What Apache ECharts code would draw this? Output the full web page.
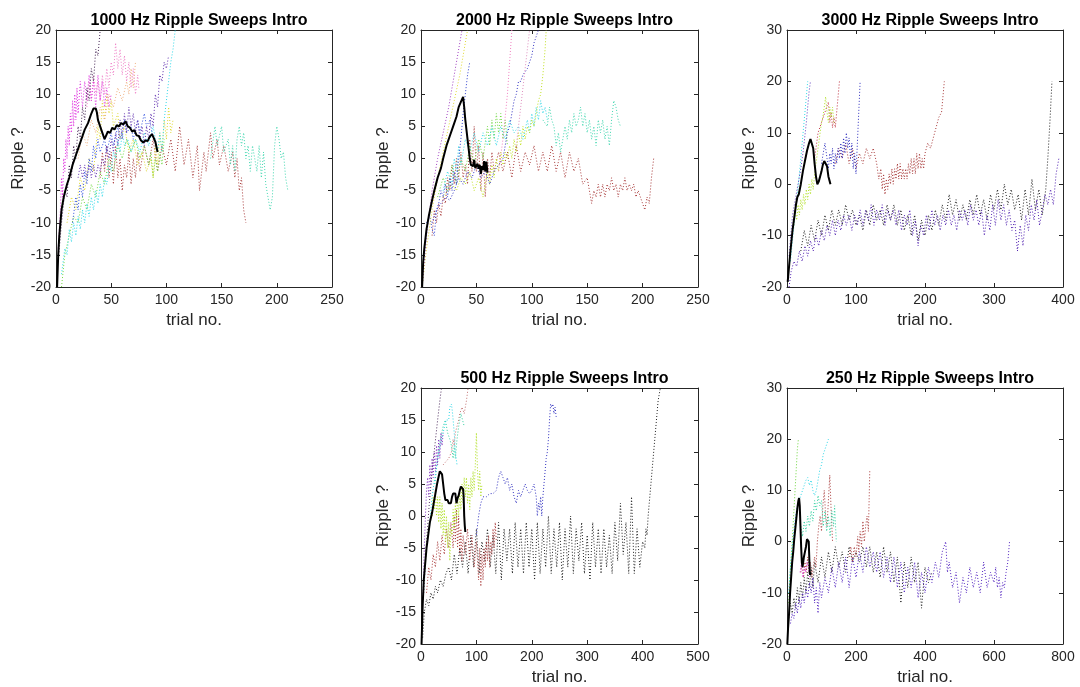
<!DOCTYPE html>
<html>
<head>
<meta charset="utf-8">
<script src="https://cdn.jsdelivr.net/npm/echarts@6/dist/echarts.min.js"></script>
<style>
html,body{margin:0;padding:0;background:#fff;}
#c{width:1080px;height:687px;}
</style>
</head>
<body>
<div id="c"></div>
<script>
// ---------- panel titles & axis ranges ----------
const titles = ['1000 Hz Ripple Sweeps Intro','2000 Hz Ripple Sweeps Intro','3000 Hz Ripple Sweeps Intro','500 Hz Ripple Sweeps Intro','250 Hz Ripple Sweeps Intro'];
const xMax = [250, 250, 400, 500, 800];
const xStep = [50, 50, 100, 100, 200];
const yMin = [-20, -20, -20, -20, -20];
const yMax = [20, 20, 30, 20, 30];
const yStep = [5, 5, 10, 5, 10];
const xName = 'trial no.';
const yName = 'Ripple ?';

// ---------- 1000 Hz ----------
const a_mean = [[1,-20],[2,-15],[3,-12],[5,-8],[7,-6],[10,-4],[12,-3],[15,-1],[18,0.5],[20,1.5],[23,3],[26,4.5],[29,5.5],[32,7],[34,7.8],[36,7.8],[37,7.2],[38,6],[40,5],[42,4],[44,3],[45,3.2],[47,4.2],[49,4],[51,4.8],[53,4.5],[55,5.2],[57,5],[59,5.5],[61,5.3],[63,5.8],[65,5],[67,4.8],[69,4.2],[71,4.4],[73,3.6],[75,3.5],[77,2.8],[79,2.5],[81,2.8],[83,2.7],[85,3.4],[87,3.8],[89,3],[90,2.6],[91,1.8],[92,1]];
const a_mag = [[2,-14],[4,-8],[5,-3],[6,-6],[7,0],[8,-2],[9,3],[10,0],[11,5],[12,2],[13,7],[14,4],[15,9],[16,5],[17,10],[18,6],[19,11],[20,7],[22,12],[24,8],[26,12],[28,9],[30,13],[32,9],[34,12],[36,8],[38,13],[40,9],[42,12],[44,8],[46,11],[48,8],[50,10]];
const a_pink = [[28,8],[30,12],[32,9],[34,13],[36,10],[38,12],[40,9],[42,13],[44,10],[46,14],[48,11],[50,15],[52,13],[54,18],[56,14],[58,17],[60,13],[62,16],[64,12],[66,15],[68,11],[70,14],[72,10],[74,13],[75,11]];
const a_dark = [[2,-16],[5,-10],[8,-5],[10,-6],[12,-1],[14,-3],[16,2],[18,0],[20,5],[22,3],[24,8],[26,6],[28,11],[30,9],[32,14],[34,12],[36,17],[38,16],[40,20]];
const a_purple = [[20,-3],[22,-1],[24,-3],[26,-1],[28,-3],[30,-1],[32,-3],[34,-1],[36,-3],[38,-1],[40,-2],[42,0],[44,-1],[46,2],[48,0],[50,3],[52,1],[54,4],[56,2],[58,6],[60,3],[62,7],[64,4],[66,8],[68,5],[70,7],[72,4],[74,6],[76,3],[78,5],[80,2],[82,5],[84,3],[86,7],[88,5],[90,10],[92,8],[94,13],[96,12],[98,15],[100,14],[102,16]];
const a_blue = [[15,-10],[18,-6],[20,-8],[22,-4],[24,-6],[26,-2],[28,-4],[30,0],[32,-2],[34,2],[36,0],[38,3],[40,1],[44,3],[46,1],[50,4],[52,2],[56,5],[58,3],[62,6],[64,4],[68,5],[70,3],[74,6],[76,4],[80,7],[82,5],[85,6],[88,3]];
const a_cyan = [[5,-18],[8,-14],[10,-15],[12,-11],[14,-13],[16,-10],[18,-12],[20,-9],[22,-11],[24,-8],[26,-10],[28,-7],[30,-9],[32,-6],[34,-8],[36,-5],[38,-7],[40,-4],[42,-6],[44,-3],[46,-4],[48,-1],[50,-2],[52,1],[54,0],[56,3],[58,1],[60,4],[62,2],[65,3],[68,1],[72,3],[76,1],[80,4],[84,2],[88,5],[90,3],[92,1],[94,4],[96,1],[98,6],[100,9],[102,12],[104,15],[106,17],[108,20]];
const a_yellow = [[10,-10],[14,-6],[18,-8],[22,-3],[26,-5],[30,0],[34,-2],[38,5],[40,3],[42,9],[44,6],[46,10],[48,7],[50,9],[52,5],[56,7],[58,3],[62,5],[66,1],[70,3],[74,-1],[78,1],[82,-2],[86,0],[88,-3],[90,2],[92,-1],[94,4],[96,1],[98,6],[100,3],[102,8],[104,4],[106,6]];
const a_green = [[5,-20],[8,-15],[12,-12],[16,-9],[20,-10],[24,-6],[28,-8],[32,-4],[36,-6],[40,-2],[44,-4],[48,0],[52,-2],[56,2],[60,0],[64,3],[68,1],[72,3],[76,0],[80,2],[84,-1],[86,1],[88,-3],[90,0],[92,-2],[94,1],[96,-1],[98,3]];
const a_orange = [[20,0],[24,4],[28,2],[32,6],[36,4],[40,8],[44,6],[48,10],[52,8],[56,11],[60,9],[64,12],[66,10],[68,14],[70,11],[72,15]];
const a_red = [[40,-3],[42,1],[44,-2],[46,2],[48,-3],[50,1],[52,-4],[54,2],[56,-3],[58,0],[60,-5],[62,-1],[64,-3],[66,1],[68,-4],[70,0],[72,-3],[74,1],[76,-2],[80,2],[84,-1],[88,3],[92,-2],[96,2],[100,-1],[104,3],[108,-2],[112,5],[116,-1],[120,3],[124,-3],[128,2],[130,-5],[134,1],[136,-2],[140,4],[142,0],[146,3],[148,-1],[152,2],[156,-2],[160,1],[162,-3],[164,0],[166,-5],[168,-3],[170,-8],[172,-10]];
const a_teal = [[140,0],[144,5],[146,2],[150,5],[152,1],[156,3],[158,-1],[160,2],[162,-2],[164,3],[166,5],[168,2],[170,4],[172,0],[174,2],[176,-2],[178,2],[180,0],[182,-2],[184,2],[186,-3],[188,1],[190,-4],[192,-6],[194,-8],[196,-6],[198,2],[200,5],[202,3],[204,0],[206,1],[208,-3],[210,-5]];

// ---------- 2000 Hz ----------
const b_mean = [[1,-20],[2,-16],[3,-14],[5,-11],[7,-9],[10,-6.5],[12,-5],[15,-3],[18,-1.5],[20,0],[23,2],[26,3.5],[29,5],[32,6.5],[34,8],[36,8.8],[37,9.2],[38,9.6],[39,8],[40,6],[42,3],[44,0],[45,-1],[47,-1.2],[48,-0.2],[49,-1.5],[51,-0.8],[52,-1.6],[53,-1],[54,-2.4],[55,-1.2],[56,-1.8],[57,-0.4],[58,-2],[59,-0.5],[60,-2.2]];
const b_purple = [[1,-20],[5,-12],[10,-5],[15,0],[20,4],[25,8],[30,13],[35,18],[37,20]];
const b_yellow = [[1,-20],[5,-14],[10,-8],[15,-3],[20,1],[25,5],[30,9],[35,13],[40,18],[42,20]];
const b_blue1 = [[5,-10],[8,-9],[10,-11],[12,-12],[14,-8],[16,-7],[18,-5],[20,-6],[22,-4],[24,-6],[26,-3],[28,-5],[30,-2],[32,-4],[34,0],[36,3],[38,7],[40,10],[42,13],[44,15]];
const b_blue2 = [[10,-10],[14,-8],[18,-7],[22,-6],[26,-6.5],[30,-5],[34,-3],[38,-4],[42,-2],[46,-3],[50,-1],[54,-3],[58,-2],[62,-4],[66,-2],[70,-1],[74,0],[76,2],[78,4],[80,5],[82,7],[84,9],[86,10],[88,12],[90,12],[92,13],[94,13.5],[96,14],[98,15],[100,16],[102,18],[104,19],[106,20]];
const b_lime = [[20,-6],[24,-5],[28,-4],[32,-5],[36,-3],[40,-4],[44,-2],[48,-5],[52,-3],[56,-6],[58,-4],[60,-2],[62,-4],[64,-1],[66,-3],[68,0],[70,-2],[72,1],[74,-1],[76,1],[78,0],[80,2],[82,0],[84,3],[86,1],[88,4],[90,2],[92,5],[94,3],[96,5],[98,4],[100,6],[102,5],[104,7],[106,9],[108,10],[110,13],[112,17],[113,20]];
const b_green = [[15,-6],[20,-3],[24,-5],[28,-1],[32,-4],[36,0],[40,-2],[44,2],[48,-1],[52,3],[56,0],[60,5],[62,2],[64,6],[66,3],[68,7],[70,4],[72,7],[74,3],[76,6],[78,2]];
const b_cyan = [[20,-5],[24,-2],[28,-4],[30,0],[32,-2],[34,2],[36,-1],[40,3],[44,1],[48,4],[52,1],[56,4],[60,2],[64,5],[68,2],[72,5],[76,3],[80,6],[84,4],[88,5],[92,3],[96,6],[98,4],[100,7],[102,5],[104,8],[106,6],[108,9],[110,7],[112,8],[114,6]];
const b_teal = [[110,6],[114,5],[116,8],[118,6],[120,5],[122,2],[124,4],[126,1],[128,3],[130,5],[132,3],[134,6],[136,4],[138,7],[140,5],[142,6],[144,8],[146,5],[148,7],[150,4],[152,6],[154,3],[156,5],[158,2],[160,6],[162,4],[164,6],[166,3],[168,5],[170,2],[172,6],[174,9],[176,8],[178,6],[180,5]];
const b_red = [[10,-12],[12,-8],[14,-10],[16,-7],[18,-9],[20,-6],[22,-7],[24,-3],[26,-5],[28,-1],[30,-4],[32,0],[34,-3],[36,1],[38,-3],[40,-1],[42,-4],[44,3],[46,-2],[48,5],[50,-2],[52,2],[54,-5],[56,1],[58,-6],[60,0],[62,-3],[64,1],[66,-2],[70,1],[74,-2],[78,1],[82,-3],[86,2],[90,-2],[94,1],[98,-1],[102,2],[106,-2],[110,1],[114,-2],[118,2],[122,-2],[126,1],[130,-3],[134,1],[138,-2],[142,0],[146,-4],[150,-3],[152,-5],[154,-7],[156,-5],[158,-6],[160,-4],[162,-6],[164,-4],[166,-6],[168,-4],[170,-5],[172,-3],[174,-5],[176,-4],[178,-6],[180,-4],[182,-5],[184,-3],[186,-5],[188,-4],[190,-5],[192,-4],[194,-6],[196,-5],[198,-6],[200,-7],[202,-8],[204,-6],[206,-7],[208,-3],[210,0]];
const b_pink = [[70,-2],[74,3],[78,10],[80,15],[82,20]];
const b_pink2 = [[86,2],[90,8],[94,14],[98,20]];

// ---------- 3000 Hz ----------
const c_mean = [[1,-19],[3,-16],[5,-13],[8,-9],[10,-7],[13,-4],[15,-2.5],[17,-2],[20,0],[23,2.5],[26,4.5],[29,6.5],[32,8],[34,8.8],[36,8.8],[38,7],[40,4],[42,1.5],[44,0],[46,0.5],[48,1.5],[50,2.5],[52,3.8],[54,4.5],[56,4.5],[58,3.5],[60,1.5],[62,0.5],[63,0]];
const c_cyan = [[5,-15],[10,-8],[15,-2],[18,2],[20,5],[22,8],[24,11],[26,14],[28,17],[30,20]];
const c_purple = [[3,-14],[8,-6],[12,-3],[16,0],[20,3],[24,7],[28,12],[32,18],[34,20]];
const c_lime = [[10,-8],[12,-5],[14,-7],[16,-4],[18,-6],[20,-3],[22,-5],[24,-2],[26,-4],[28,-1],[30,-3],[32,0],[34,-2],[36,1],[38,-1],[40,2],[42,4],[44,6],[46,8],[48,10],[50,12],[52,13],[54,15],[56,17],[58,14],[60,12],[62,15],[64,13],[66,15],[68,12]];
const c_red = [[40,5],[45,10],[50,12],[55,14],[60,16],[62,12],[64,14],[66,11],[68,13],[70,11],[72,14],[74,17],[76,20]];
const c_blue = [[50,4],[55,8],[58,5],[60,3],[62,6],[64,4],[66,7],[68,3],[70,6],[72,4],[74,7],[76,5],[78,8],[80,5],[82,9],[84,6],[86,10],[88,7],[90,9],[92,5],[94,8],[96,3],[98,6],[100,2],[102,8],[104,14],[106,20]];
const c_brown = [[70,4],[75,7],[80,5],[85,8],[90,4],[95,7],[100,3],[105,6],[110,4],[115,7],[120,5],[125,7],[130,4],[133,1],[136,3],[138,-1],[140,2],[142,-2],[144,1],[146,-1],[148,2],[150,0],[152,3],[154,0],[156,3],[158,1],[160,4],[162,1],[164,4],[166,1],[168,3],[170,1],[172,3],[174,1],[176,4],[178,2],[180,5],[182,2],[184,5],[186,2],[188,6],[190,3],[192,6],[194,3],[196,5],[198,3],[200,6],[204,8],[208,7],[212,9],[216,11],[220,13],[224,14],[228,20]];
const c_violet = [[3,-20],[6,-17],[10,-15],[14,-16],[18,-13],[22,-15],[26,-12],[30,-14],[34,-11],[38,-13],[42,-10],[46,-12],[50,-9],[54,-11],[58,-8],[62,-10],[66,-7],[70,-10],[74,-7],[78,-9],[82,-6],[86,-8],[90,-6],[94,-9],[98,-6],[102,-8],[106,-5],[110,-8],[114,-5],[118,-7],[122,-4],[126,-8],[130,-5],[134,-7],[138,-4],[142,-8],[146,-5],[150,-7],[154,-5],[158,-8],[162,-5],[166,-9],[170,-6],[174,-8],[178,-5],[182,-10],[186,-7],[190,-12],[194,-8],[198,-10],[202,-6],[206,-9],[210,-5],[214,-8],[218,-6],[222,-9],[226,-6],[230,-8],[234,-5],[238,-8],[242,-6],[246,-9],[250,-5],[254,-7],[258,-5],[262,-8],[266,-4],[270,-7],[274,-5],[278,-8],[282,-5],[286,-10],[290,-6],[294,-9],[298,-4],[302,-8],[306,-3],[310,-7],[314,-4],[318,-8],[322,-5],[326,-9],[330,-7],[334,-13],[338,-8],[342,-12],[346,-6],[350,-9],[354,-4],[358,-7],[362,-3],[366,-8],[370,-5],[374,-2],[378,-4],[382,-1],[386,-4],[390,2],[394,5]];
const c_black = [[20,-13],[25,-9],[30,-12],[35,-8],[40,-11],[45,-7],[50,-10],[55,-6],[60,-9],[65,-5],[70,-8],[75,-5],[80,-8],[85,-4],[90,-7],[95,-5],[100,-8],[105,-6],[110,-9],[115,-5],[120,-8],[125,-4],[130,-7],[135,-5],[140,-8],[145,-4],[150,-7],[155,-4],[160,-8],[165,-5],[170,-9],[175,-6],[180,-10],[185,-6],[190,-11],[195,-7],[200,-10],[205,-6],[210,-9],[215,-5],[220,-8],[225,-4],[230,-7],[235,-2],[240,-6],[245,-3],[250,-7],[255,-4],[260,-7],[265,-3],[270,-6],[275,-2],[280,-6],[285,-3],[290,-7],[295,-2],[300,-5],[305,-1],[310,-5],[315,0],[320,-4],[325,-1],[330,-5],[335,-2],[340,-7],[345,-1],[350,-6],[355,1],[360,-5],[365,-1],[370,-6],[375,-1],[378,5],[381,12],[384,20]];

// ---------- 500 Hz ----------
const d_mean = [[1,-20],[2,-17],[3,-14],[5,-10],[7,-8],[10,-5],[13,-3],[16,-1],[20,0.5],[23,2],[26,3.5],[29,5],[32,6.2],[34,7],[36,7.3],[38,6.5],[40,5],[42,3.5],[44,2.5],[46,2.2],[48,2.5],[50,2],[52,2.3],[54,2],[56,3],[58,3.5],[60,3.2],[62,3.5],[64,2],[65,1.8],[66,2.8],[68,3.2],[70,4],[72,4.6],[74,4.6],[76,4.2],[77,3],[78,0],[79,-1.5],[80,-2.5]];
const d_purple = [[3,-14],[6,-5],[8,0],[10,4],[12,6],[14,3],[16,8],[18,5],[20,9],[22,6],[24,10],[26,7],[28,11],[30,8],[32,12],[34,9],[36,13],[38,11],[40,13]];
const d_dark = [[5,-12],[10,-4],[15,2],[20,7],[25,11],[30,15],[34,18],[37,20]];
const d_cyan = [[15,-2],[20,3],[25,6],[30,9],[35,11],[40,13],[45,15],[50,15],[52,17],[55,17.5],[57,16],[60,13],[62,10],[65,8]];
const d_teal = [[25,5],[30,9],[35,12],[40,14],[44,15],[48,13],[52,12],[55,11],[58,9],[60,11],[62,9],[65,12],[68,14],[70,15],[72,16],[75,16],[78,14]];
const d_pink = [[40,8],[50,9],[55,10],[58,12],[60,11],[62,13],[65,14],[68,15],[70,16],[74,17],[78,16],[82,18],[85,20]];
const d_lime = [[20,0],[22,3],[24,1],[26,4],[28,0],[30,3],[32,-1],[34,3],[36,-2],[38,2],[40,-3],[42,1],[44,-4],[46,0],[48,-5],[50,-1],[52,-7],[54,-2],[56,-3],[58,1],[60,-2],[62,2],[64,-1],[66,3],[68,0],[70,4],[72,1],[74,5],[76,2],[78,6],[80,3],[82,6],[84,2],[86,5],[88,1],[90,6],[92,3],[94,7],[96,4],[98,8],[100,13],[102,7],[104,4],[106,7],[108,3],[110,5]];
const d_brown = [[10,-12],[14,-8],[18,-10],[22,-6],[26,-8],[30,-4],[34,-7],[38,-3],[42,-6],[46,-2],[50,-5],[54,-1],[58,-5],[60,0],[62,-4],[64,1],[66,-5],[68,0],[70,-6],[72,-2],[74,-7],[76,-3],[80,-6],[84,-2],[88,-7],[92,-3],[96,-8],[100,-4],[104,-10],[106,-5],[108,-11],[110,-6],[112,-10],[114,-5],[116,-8],[118,-4],[120,-7],[122,-3],[124,-8],[126,-4],[128,-6],[130,-2],[132,-5],[134,-1],[136,-4]];
const d_blue = [[100,-3],[104,0],[108,2],[112,3],[118,3],[124,3.5],[130,3.5],[136,4],[140,6],[144,7],[148,6],[152,5],[156,6],[160,4],[164,5],[168,3],[172,2],[176,4],[180,3],[184,4],[188,5],[192,4],[196,3.5],[200,4],[204,5],[208,3],[210,0],[212,2],[214,1],[216,3],[218,0],[220,3],[222,5],[224,7],[226,9],[228,10],[230,12],[232,15],[234,17.5],[236,17],[238,17.5],[240,16],[242,17],[244,15.5]];
const d_black = [[3,-19],[6,-15],[10,-13],[14,-14],[18,-12],[22,-13],[26,-11],[30,-12],[35,-10],[40,-11],[45,-9],[50,-8],[55,-10],[60,-6],[65,-9],[70,-5],[75,-8],[80,-4],[85,-9],[90,-3],[95,-8],[100,-2],[105,-9],[110,-4],[115,-7],[120,-2],[125,-8],[130,-3],[135,-9],[140,-1],[145,-10],[150,-2],[155,-7],[160,-2],[165,-9],[170,-1],[175,-8],[180,-2],[185,-9],[190,-1],[195,-8],[200,-2],[205,-10],[210,-1],[215,-9],[220,-2],[225,-8],[230,0],[235,-9],[240,-2],[245,-8],[250,-1],[255,-10],[260,-2],[265,-8],[270,0],[275,-9],[280,-2],[285,-7],[290,-1],[295,-9],[300,-3],[305,-10],[310,-1],[315,-8],[320,-2],[325,-9],[330,-2],[335,-8],[340,-3],[345,-9],[350,-1],[355,-7],[360,2],[365,-6],[370,-1],[375,-9],[380,3],[385,-9],[390,-2],[395,-8],[400,-4],[404,-5],[406,-2],[408,-3],[410,0],[412,2],[414,4],[416,6],[418,8],[420,10],[422,12],[424,14],[426,16],[428,18],[432,20]];

// ---------- 250 Hz ----------
const e_mean = [[1,-20],[3,-17],[6,-14],[9,-10],[12,-7],[15,-4],[18,-2],[21,0.5],[24,2.5],[27,4.5],[30,6.5],[33,8],[35,8.5],[37,7],[39,3],[41,-1],[43,-4],[45,-5],[47,-4],[49,-3],[52,-2],[55,-1],[58,0.5],[60,0.8],[62,0.8],[63,0],[64,-2],[65,-4],[66,-6],[67,-6.5],[68,-6]];
const e_green = [[5,-12],[10,-5],[15,0],[20,6],[25,12],[30,18],[33,20]];
const e_cyan = [[5,-10],[10,-5],[15,-1],[20,2],[25,5],[30,7],[35,8],[40,9],[45,10],[50,11],[55,12],[60,12.5],[65,11],[70,12],[75,10],[80,9],[85,10],[90,12],[95,14],[100,15],[105,17],[110,18],[115,19],[120,20]];
const e_teal = [[40,3],[45,1],[50,4],[55,2],[60,5],[65,3],[70,6],[75,4],[80,8],[85,6],[90,9],[95,7],[100,8],[105,3],[110,6],[115,2],[120,5],[125,1],[130,6],[135,3],[138,7],[140,4],[143,0]];
const e_red = [[40,-6],[44,-4],[48,-7],[52,-4],[56,-6],[60,-3],[64,-6],[68,-4],[72,-7],[76,-5],[80,-3],[84,-5],[88,0],[92,3],[96,5],[100,2],[104,7],[108,10],[112,5],[116,3],[120,8],[124,13],[128,6],[132,0]];
const e_red2 = [[180,-3],[185,-1],[190,-4],[195,-1],[200,-3],[205,1],[208,-2],[212,2],[216,-1],[220,4],[224,0],[228,3],[232,5],[236,2],[240,14]];
const e_mag = [[38,-6],[42,-4],[46,-7],[50,-5],[54,-6],[58,-4],[62,-5],[66,-7]];
const e_violet = [[10,-16],[15,-14],[20,-15],[25,-12],[30,-14],[35,-11],[40,-13],[45,-10],[50,-12],[55,-9],[60,-11],[65,-8],[70,-10],[75,-7],[80,-12],[85,-9],[90,-14],[95,-8],[100,-11],[110,-7],[120,-10],[130,-5],[140,-9],[150,-4],[160,-8],[170,-3],[180,-9],[190,-3],[200,-7],[210,-2],[220,-6],[230,-1],[240,-5],[250,-2],[260,-6],[270,-2],[280,-7],[290,-3],[300,-8],[310,-3],[320,-9],[330,-4],[340,-10],[350,-5],[360,-9],[370,-4],[380,-11],[390,-6],[400,-10],[410,-5],[420,-8],[430,-4],[440,-7],[450,-2],[460,0],[465,-6],[470,-4],[480,-9],[490,-6],[500,-12],[510,-7],[520,-10],[530,-5],[540,-9],[550,-6],[560,-10],[570,-4],[580,-9],[590,-6],[600,-8],[605,-5],[610,-9],[615,-7],[620,-11],[625,-8],[630,-9],[635,-6],[640,-4],[645,0]];
const e_black = [[5,-15],[10,-12],[15,-14],[20,-11],[25,-13],[30,-9],[35,-12],[40,-8],[45,-11],[50,-7],[55,-10],[60,-6],[65,-9],[70,-5],[75,-9],[80,-4],[90,-8],[100,-3],[110,-7],[120,-2],[130,-6],[140,-1],[150,-5],[160,-2],[170,-6],[180,-1],[190,-4],[200,-2],[210,-4],[220,-1],[230,-5],[240,-1],[250,-6],[260,-2],[270,-7],[280,-1],[290,-6],[300,-2],[310,-8],[320,-3],[330,-12],[340,-4],[350,-9],[360,-3],[370,-8],[380,-4],[390,-13],[400,-5],[410,-8],[420,-6]];

// ---------- which traces go to which panel (with colours) ----------
const panels = [
  { mean: a_mean, traces: [[a_red,'#a83838'],[a_teal,'#40d8b0'],[a_green,'#70d840'],[a_yellow,'#e0d830'],[a_orange,'#f0b080'],[a_cyan,'#30d8e8'],[a_blue,'#3050e0'],[a_purple,'#6030b0'],[a_pink,'#f080c8'],[a_mag,'#e030e0'],[a_dark,'#402050']] },
  { mean: b_mean, traces: [[b_red,'#a83838'],[b_teal,'#40d8b0'],[b_green,'#70d840'],[b_cyan,'#30d8e8'],[b_lime,'#c0e020'],[b_blue2,'#3030c0'],[b_blue1,'#3040d0'],[b_yellow,'#e0d830'],[b_purple,'#a040c0'],[b_pink,'#f080c0'],[b_pink2,'#e090c0']] },
  { mean: c_mean, traces: [[c_black,'#202020'],[c_violet,'#5020b0'],[c_brown,'#a83838'],[c_blue,'#3030c0'],[c_red,'#c03040'],[c_lime,'#b0e020'],[c_cyan,'#30d8e8'],[c_purple,'#6040c0']] },
  { mean: d_mean, traces: [[d_black,'#202020'],[d_brown,'#a83838'],[d_blue,'#3030c0'],[d_lime,'#b0e020'],[d_pink,'#c07070'],[d_teal,'#30d0a0'],[d_cyan,'#30d8e8'],[d_purple,'#8030c0'],[d_dark,'#503060']] },
  { mean: e_mean, traces: [[e_black,'#202020'],[e_violet,'#5020c0'],[e_red2,'#a83838'],[e_red,'#a83838'],[e_mag,'#e030e0'],[e_teal,'#30d0a0'],[e_cyan,'#30d8e8'],[e_green,'#70d840']] }
];

// ---------- layout ----------
const boxes = [
  {left:56, top:30, width:276, height:257},
  {left:421, top:30, width:277, height:257},
  {left:787, top:30, width:276, height:257},
  {left:421, top:388, width:277, height:257},
  {left:787, top:388, width:276, height:257}
];
const AX = '#262626';
const FONT = '"Liberation Sans", Arial, Helvetica, sans-serif';

const grid = [], xAxis = [], yAxis = [], series = [], title = [];
boxes.forEach((b, i) => {
  grid.push({left:b.left, top:b.top, width:b.width, height:b.height, containLabel:false});
  title.push({
    text: titles[i], left: b.left + b.width / 2, top: b.top - 22, textAlign: 'center',
    textStyle: {fontFamily: FONT, fontSize: 16, fontWeight: 'bold', color: '#000'}
  });
  const common = {
    gridIndex: i, type: 'value', splitLine: {show:false},
    axisLine: {show:true, onZero:false, lineStyle:{color:AX, width:1}},
    axisTick: {show:true, inside:true, length:4, lineStyle:{color:AX, width:1}}
  };
  xAxis.push(Object.assign({}, common, {
    position:'bottom', min:0, max:xMax[i], interval:xStep[i],
    name: xName, nameLocation:'middle', nameGap: 25,
    nameTextStyle:{fontFamily:FONT, fontSize:17, color:AX},
    axisLabel:{fontFamily:FONT, fontSize:14, color:AX, margin:6}
  }));
  xAxis.push(Object.assign({}, common, {
    position:'top', min:0, max:xMax[i], interval:xStep[i], axisLabel:{show:false}
  }));
  yAxis.push(Object.assign({}, common, {
    position:'left', min:yMin[i], max:yMax[i], interval:yStep[i],
    name: yName, nameLocation:'middle', nameGap: 29,
    nameTextStyle:{fontFamily:FONT, fontSize:17, color:AX},
    axisLabel:{fontFamily:FONT, fontSize:14, color:AX, margin:5}
  }));
  yAxis.push(Object.assign({}, common, {
    position:'right', min:yMin[i], max:yMax[i], interval:yStep[i], axisLabel:{show:false}
  }));
  panels[i].traces.forEach(([d, col]) => {
    series.push({
      type:'line', xAxisIndex:2*i, yAxisIndex:2*i, data:d, showSymbol:false, symbol:'none',
      clip:true, silent:true, z:2,
      lineStyle:{color:col, width:1, type:[1,2]}
    });
  });
  series.push({
    type:'line', xAxisIndex:2*i, yAxisIndex:2*i, data:panels[i].mean, showSymbol:false, symbol:'none',
    clip:true, silent:true, z:3,
    lineStyle:{color:'#000', width:2, type:'solid'}
  });
});

const chart = echarts.init(document.getElementById('c'), null, {renderer:'canvas'});
chart.setOption({animation:false, backgroundColor:'#fff', title, grid, xAxis, yAxis, series});
</script>
</body>
</html>
